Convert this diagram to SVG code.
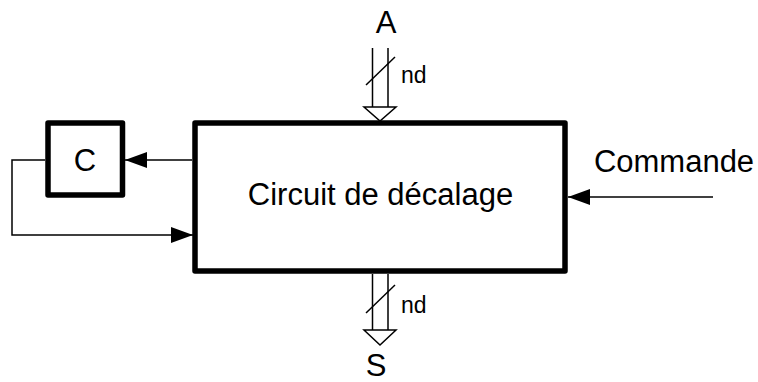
<svg xmlns="http://www.w3.org/2000/svg" width="758" height="382" viewBox="0 0 758 382">
<style>
.box{fill:#fff;stroke:#000;stroke-width:5.5;stroke-linejoin:round}
.ln{fill:none;stroke:#000;stroke-width:1.5}
.bus{fill:#fff;stroke:#000;stroke-width:1.5;stroke-linejoin:miter}
.t{font-family:"Liberation Sans",Arial,sans-serif;fill:#000}
.big{font-size:31px}
.sm{font-size:23px}
</style>
<defs>
<marker id="ah" markerUnits="userSpaceOnUse" markerWidth="23" markerHeight="17" refX="22" refY="8" orient="auto" overflow="visible">
<path d="M0,0 L22,8 L0,16 z" fill="#000"/>
</marker>
</defs>
<g id="connectors">
<path class="ln" d="M192,160 H125" marker-end="url(#ah)"/>
<path class="ln" d="M45,160 H12 V235 H193" marker-end="url(#ah)"/>
<path class="ln" d="M713,197 H568" marker-end="url(#ah)"/>
<g id="busA">
<path class="ln" d="M372.5,48 V107 M388,48 V107"/>
<polygon class="bus" points="364,107 396,107 380,121"/>
<path class="ln" d="M366,85 L395,57"/>
<text class="t sm" x="401" y="83">nd</text>
</g>
<g id="busS">
<path class="ln" d="M372.5,274 V330 M388,274 V330"/>
<polygon class="bus" points="364,330 396,330 380,345"/>
<path class="ln" d="M366,313 L395,285"/>
<text class="t sm" x="401" y="313">nd</text>
</g>
</g>
<g id="main">
<rect class="box" x="195" y="123" width="370" height="148"/>
<text class="t big" x="380.5" y="205" text-anchor="middle">Circuit de décalage</text>
</g>
<g id="C">
<rect class="box" x="48" y="123" width="74.5" height="72"/>
<text class="t big" x="85" y="171" text-anchor="middle">C</text>
</g>
<g id="A">
<text class="t big" x="386" y="33" text-anchor="middle">A</text>
</g>
<g id="S">
<text class="t big" x="376" y="376" text-anchor="middle">S</text>
</g>
<g id="Commande">
<text class="t big" x="674" y="172" text-anchor="middle">Commande</text>
</g>
</svg>
